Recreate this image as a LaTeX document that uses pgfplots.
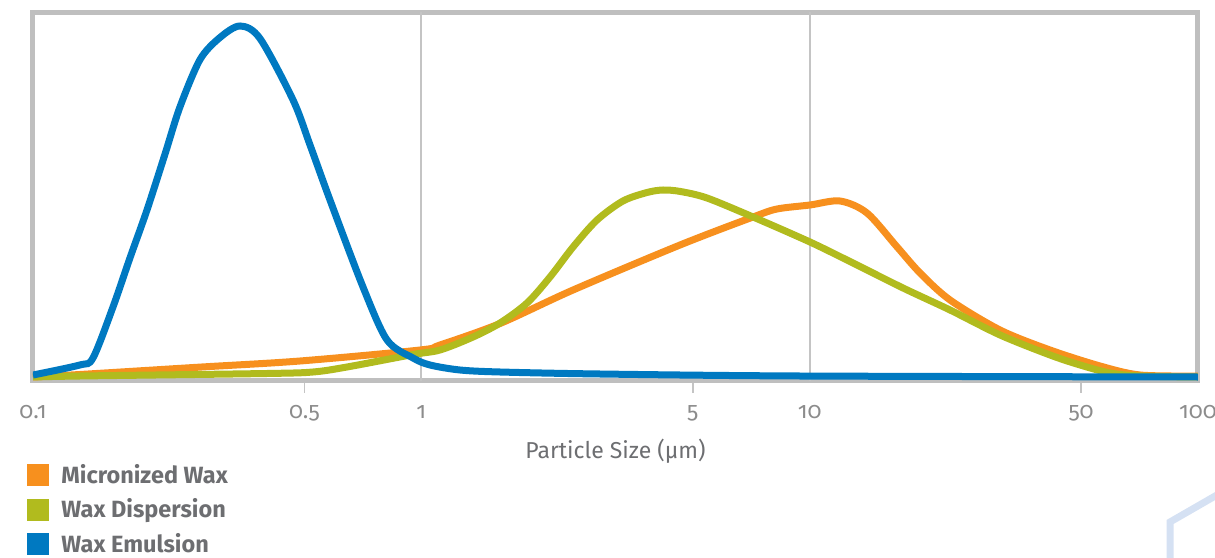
\documentclass[border=0pt]{standalone}
\usepackage{fontspec}
\setmainfont{Fira Sans}
\newfontfamily\onum{Fira Sans}[Numbers=OldStyle]
\usepackage{pgfplots}
\pgfplotsset{compat=1.18}

\definecolor{micro}{HTML}{F7901E}
\definecolor{disp}{HTML}{B1BB1E}
\definecolor{emul}{HTML}{0079C1}
\definecolor{frame}{HTML}{BFBFBF}
\definecolor{gridc}{HTML}{C4C4C4}
\definecolor{tickc}{HTML}{8C8C8C}
\definecolor{textc}{HTML}{6D6E71}
\definecolor{deco}{HTML}{D5E1F3}

\begin{document}
\begin{tikzpicture}
\useasboundingbox (-33bp,-177.5bp) rectangle (1182bp,380.5bp);
\begin{axis}[
    at={(0,0)}, anchor=south west,
    scale only axis,
    width=1165bp, height=368bp,
    xmode=log,
    xmin=0.1, xmax=100,
    ymin=0, ymax=368,
    ytick=\empty,
    axis line style={frame, line width=5bp},
    xtick={0.1,0.5,1,5,10,50,100},
    xticklabels={\mbox{0.1},\mbox{0.5},\mbox{1},\mbox{5},\mbox{10},\mbox{50},\mbox{100}},
    xtick pos=bottom,
    major tick length=0pt,
    minor xtick={0.5,5,50},
    minor tick length=12bp,
    tick align=outside,
    minor tick style={gridc, line width=1.5bp},
    extra x ticks={1,10},
    extra x tick labels={},
    extra x tick style={grid=major, major grid style={gridc, line width=1.8bp}},
    xticklabel style={font=\onum\fontsize{23bp}{27bp}\selectfont, text=tickc, anchor=base},
    xticklabel shift=38bp,
    xlabel={Particle Size (µm)},
    xlabel style={font=\fontsize{23bp}{27bp}\selectfont, text=textc,
      at={(axis description cs:0.5,0)}, anchor=base, yshift=-78bp},
    legend style={
      at={(axis description cs:-0.00515,-0.2280)}, anchor=north west,
      draw=none, fill=none, inner sep=0pt, outer sep=0pt,
      row sep=12.5bp,
      font=\bfseries\fontsize{23.5bp}{27bp}\selectfont, text=textc,
      nodes={inner sep=0pt, text height=16bp, text depth=0pt},
    },
    legend cell align=left,
    legend image code/.code={
      \fill[#1, draw=none] (0bp,-11bp) rectangle (22bp,11bp);
      \path (31bp,0bp);},
    every axis plot/.append style={line width=7bp, smooth, tension=0.5, no markers},
]

% Micronized Wax
\addplot[micro] coordinates {
  (0.1,3.5) (0.132,6) (0.2693,13.4) (0.487,19.5) (0.9922,30.5) (1.117,35.5)
  (1.595,57) (2.459,90.5) (4.637,135.5) (7.151,163.5) (8.242,171.5)
  (10.02,175.5) (11.97,179.5) (14.05,167.5) (16.80,133.5) (19.25,107.5)
  (22.99,80.5) (30.93,50.5) (41.60,30.5) (55.97,14.5) (70.94,5.5) (100,4.5)
};

% Wax Dispersion
\addplot[disp] coordinates {
  (0.1,3.5) (0.132,4.5) (0.4,7) (0.5261,8.5) (0.6436,13.5) (0.952,26)
  (1.117,30.5) (1.359,43.5) (1.595,57.5) (1.872,77.5) (2.145,103.5)
  (2.459,133.5) (2.835,160.5) (3.306,179.5) (3.813,188) (4.193,190.5)
  (4.65,189) (5.442,182.5) (7.151,163.5) (10.02,138.5) (12.93,117.5)
  (17.40,92.5) (22.99,70.5) (30.93,45.5) (41.60,25.5) (49.71,15.5)
  (59.38,7.5) (70.94,4.5) (100,3.5)
};

% Wax Emulsion
\addplot[emul] coordinates {
  (0.1,5.5) (0.132,15.5) (0.1427,22.5) (0.1607,73.5) (0.1777,122.5)
  (0.1966,170.5) (0.2188,226.5) (0.239,273.5) (0.2693,321) (0.3031,343)
  (0.3413,354.5) (0.3843,342) (0.4674,280.5) (0.5169,235.5) (0.5819,180.5)
  (0.7077,93.5) (0.8161,40.5) (0.952,22.5) (1.053,15.5) (1.258,10.5)
  (1.595,8.5) (2.886,6.5) (9.45,4.5) (100,3.5)
};

\legend{Micronized Wax, Wax Dispersion, Wax Emulsion}
\end{axis}
\draw[deco, line width=7bp] (1137bp,-182bp) -- (1137bp,-141.5bp) -- (1190bp,-111bp);
\end{tikzpicture}
\end{document}
